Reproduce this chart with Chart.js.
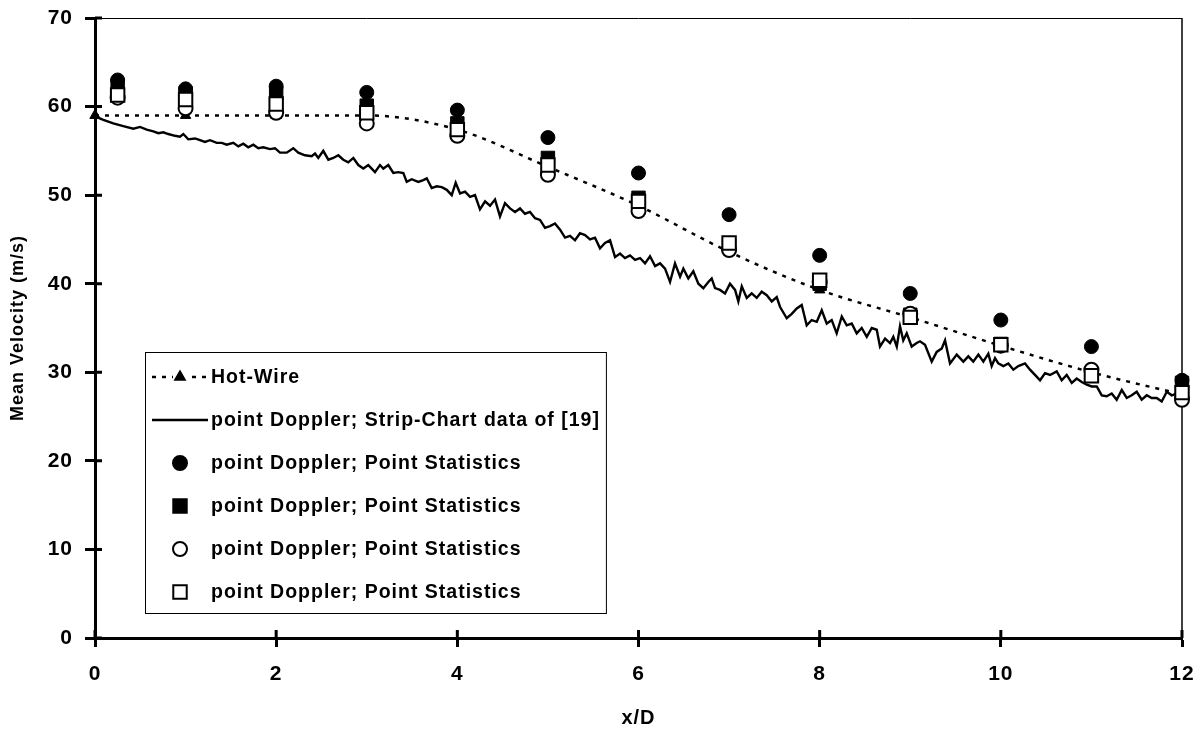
<!DOCTYPE html>
<html><head><meta charset="utf-8">
<style>html,body{margin:0;padding:0;background:#fff;}canvas{display:block;}</style>
<script src="https://cdn.jsdelivr.net/npm/chart.js@4.4.1/dist/chart.umd.min.js"></script>
</head><body>
<canvas id="c" width="1201" height="730"></canvas>
<script>
// ---------- data ----------
const xTicks = [0, 2, 4, 6, 8, 10, 12];
const yTicks = [0, 10, 20, 30, 40, 50, 60, 70];
const xTitle = 'x/D';
const yTitle = 'Mean Velocity (m/s)';
const seriesLabels = [
  'Hot-Wire',
  'point Doppler; Strip-Chart data of [19]',
  'point Doppler; Point Statistics',
  'point Doppler; Point Statistics',
  'point Doppler; Point Statistics',
  'point Doppler; Point Statistics'
];

const hotWireX = [0, 1, 2, 3, 4, 5, 6, 7, 8, 9, 10, 11, 12];
const hotWireY = [59.0, 59.0, 59.0, 59.0, 57.4, 53.2, 48.8, 43.6, 39.3, 36.2, 33.0, 30.0, 27.5];

const pointX = [0.25, 1, 2, 3, 4, 5, 6, 7, 8, 9, 10, 11, 12];
const circleFilledY = [63.0, 62.0, 62.3, 61.6, 59.6, 56.5, 52.5, 47.8, 43.2, 38.9, 35.9, 32.9, 29.1];
const squareFilledY = [62.4, 61.5, 61.5, 60.1, 58.1, 54.2, 49.7, 44.3, 40.0, 36.5, 33.2, 29.8, 28.8];
const circleOpenY   = [61.0, 59.8, 59.3, 58.1, 56.7, 52.3, 48.2, 43.8, 40.2, 36.6, 33.0, 30.3, 26.9];
const squareOpenY   = [61.3, 60.8, 60.3, 59.3, 57.4, 53.4, 49.3, 44.6, 40.4, 36.2, 33.1, 29.6, 27.7];

const stripX = [0.000,0.092,0.202,0.312,0.423,0.497,0.571,0.644,0.699,0.754,0.809,0.883,0.938,0.975,1.030,1.104,1.159,1.214,1.270,1.344,1.399,1.454,1.527,1.582,1.637,1.692,1.748,1.803,1.858,1.932,1.987,2.042,2.116,2.189,2.244,2.318,2.392,2.429,2.465,2.520,2.576,2.631,2.686,2.741,2.796,2.852,2.907,2.962,3.017,3.036,3.091,3.146,3.183,3.238,3.293,3.348,3.404,3.441,3.496,3.569,3.624,3.662,3.717,3.772,3.828,3.883,3.938,3.982,4.030,4.085,4.140,4.195,4.250,4.306,4.361,4.416,4.471,4.526,4.582,4.637,4.692,4.747,4.802,4.858,4.913,4.968,5.023,5.078,5.134,5.189,5.244,5.299,5.354,5.410,5.465,5.520,5.575,5.630,5.686,5.741,5.796,5.851,5.906,5.962,6.017,6.072,6.127,6.183,6.238,6.293,6.348,6.403,6.459,6.495,6.550,6.605,6.661,6.716,6.771,6.808,6.845,6.900,6.955,7.010,7.066,7.102,7.140,7.195,7.250,7.305,7.360,7.416,7.471,7.526,7.562,7.636,7.692,7.747,7.802,7.857,7.912,7.968,8.023,8.078,8.133,8.188,8.244,8.299,8.354,8.409,8.464,8.520,8.575,8.630,8.666,8.722,8.777,8.813,8.851,8.887,8.923,8.961,9.016,9.071,9.108,9.163,9.237,9.292,9.348,9.384,9.439,9.513,9.586,9.641,9.696,9.752,9.807,9.862,9.899,9.936,9.972,10.028,10.083,10.138,10.193,10.267,10.322,10.377,10.433,10.488,10.543,10.617,10.672,10.727,10.783,10.838,10.893,10.948,11.003,11.059,11.114,11.169,11.224,11.279,11.335,11.390,11.445,11.500,11.555,11.611,11.666,11.721,11.776,11.832,11.887,11.942];
const stripY = [58.9,58.5,58.1,57.8,57.5,57.7,57.4,57.2,57.0,57.1,56.9,56.7,56.6,56.9,56.3,56.4,56.2,56.0,56.2,55.9,55.9,55.7,55.9,55.5,55.8,55.4,55.7,55.3,55.4,55.2,55.3,54.8,54.8,55.3,54.8,54.5,54.4,54.7,54.2,55.0,54.0,54.2,54.5,54.0,53.7,54.2,53.4,53.0,53.4,53.2,52.6,53.4,53.0,53.4,52.5,52.6,52.5,51.5,51.8,51.5,51.7,51.9,50.8,51.0,50.9,50.6,50.0,51.4,50.2,50.4,49.8,50.0,48.4,49.3,48.8,49.5,47.6,49.1,48.5,48.1,48.5,47.9,48.1,47.4,47.2,46.3,46.5,46.8,46.1,45.2,45.4,44.9,45.7,45.5,45.0,45.2,44.0,44.6,44.9,43.0,43.4,42.9,43.2,42.7,42.9,42.3,43.1,42.0,42.3,41.7,40.2,42.3,40.8,41.7,40.6,41.4,40.0,39.5,40.2,40.6,39.5,39.3,38.9,40.0,39.3,38.0,39.7,38.4,38.9,38.4,39.1,38.7,38.0,38.5,37.4,36.1,36.6,37.2,37.6,35.3,35.9,35.7,37.0,35.5,35.9,34.4,36.3,35.3,35.5,34.4,35.0,34.0,35.0,34.8,32.9,33.8,33.3,34.0,32.9,35.2,33.6,34.4,32.9,33.3,33.5,33.1,31.2,32.3,32.7,33.6,31.0,32.0,31.2,31.8,31.2,32.0,31.2,32.1,30.7,31.6,31.0,30.7,31.0,30.3,30.7,31.0,30.3,29.7,29.1,29.9,29.7,30.1,29.1,29.7,28.8,29.3,28.9,28.6,28.4,28.4,27.4,27.3,27.6,26.9,28.0,27.1,27.4,27.8,26.9,27.4,27.1,27.1,26.7,27.8,27.4,27.6];

// ---------- build ----------
const pts = (xs, ys) => xs.map((x, i) => ({x: x, y: ys[i]}));
const FONT = '"Liberation Sans", Arial, Helvetica, sans-serif';

const spacingPlugin = {
  id: 'spacing',
  beforeLayout(chart) { chart.ctx.letterSpacing = '1px'; },
  beforeDraw(chart) { chart.ctx.letterSpacing = '1px'; }
};

const framePlugin = {
  id: 'frame',
  beforeDatasetsDraw(chart) {
    const ctx = chart.ctx, a = chart.chartArea;
    const xs = chart.scales.x, ys = chart.scales.y;
    ctx.save();
    ctx.strokeStyle = '#000';
    ctx.lineWidth = 1;
    ctx.beginPath();
    ctx.moveTo(a.left, a.top + 0.5); ctx.lineTo(a.right, a.top + 0.5);
    ctx.stroke();
    ctx.lineWidth = 1.5;
    ctx.beginPath();
    ctx.moveTo(a.right, a.top); ctx.lineTo(a.right, a.bottom);
    ctx.stroke();
    ctx.lineWidth = 3;
    ctx.beginPath();
    xTicks.forEach(v => { const p = xs.getPixelForValue(v); ctx.moveTo(p, a.bottom); ctx.lineTo(p, a.bottom - 8); });
    yTicks.forEach(v => { const p = ys.getPixelForValue(v); ctx.moveTo(a.left, p); ctx.lineTo(a.left + 7, p); });
    ctx.stroke();
    ctx.restore();
  }
};

function drawSymbol(ctx, style, x, y, r, fill) {
  ctx.beginPath();
  if (style === 'circle') {
    ctx.arc(x, y, r, 0, Math.PI * 2);
  } else if (style === 'rect') {
    const s = Math.SQRT1_2 * r;
    ctx.rect(x - s, y - s, 2 * s, 2 * s);
  } else if (style === 'triangle') {
    let rad = 0;
    ctx.moveTo(x + Math.sin(rad) * r, y - Math.cos(rad) * r);
    rad += 2 * Math.PI / 3;
    ctx.lineTo(x + Math.sin(rad) * r, y - Math.cos(rad) * r);
    rad += 2 * Math.PI / 3;
    ctx.lineTo(x + Math.sin(rad) * r, y - Math.cos(rad) * r);
    ctx.closePath();
  }
  ctx.fillStyle = fill;
  ctx.fill();
  ctx.lineWidth = 2;
  ctx.strokeStyle = '#000';
  ctx.stroke();
}

const legendPlugin = {
  id: 'boxLegend',
  afterDraw(chart) {
    const ctx = chart.ctx;
    const left = 145, top = 352, bottom = 613, row0 = 377, step = 43, symX = 180, textX = 211;
    ctx.save();
    ctx.letterSpacing = '1px';
    ctx.font = 'bold 19.5px ' + FONT;
    let maxW = 0;
    seriesLabels.forEach(t => { maxW = Math.max(maxW, ctx.measureText(t).width); });
    const right = textX + maxW + 6;
    ctx.fillStyle = '#fff';
    ctx.fillRect(left, top, right - left, bottom - top);
    ctx.strokeStyle = '#000';
    ctx.lineWidth = 1;
    ctx.strokeRect(left + 0.5, top + 0.5, right - left, bottom - top);
    const ds = chart.data.datasets;
    ds.forEach((d, i) => {
      const y = row0 + i * step;
      if (d.showLine) {
        ctx.save();
        ctx.lineWidth = d.borderWidth;
        ctx.setLineDash(d.borderDash || []);
        ctx.strokeStyle = '#000';
        ctx.beginPath();
        ctx.moveTo(152, y); ctx.lineTo(208, y);
        ctx.stroke();
        ctx.restore();
      }
      if (d.pointRadius > 0) {
        ctx.save();
        ctx.setLineDash([]);
        const r = d.pointStyle === 'triangle' ? 5.5 : d.pointRadius;
        if (d.pointStyle === 'triangle') {
          ctx.fillStyle = '#fff';
          ctx.fillRect(symX - 7, y - 7, 14, 14);
        }
        drawSymbol(ctx, d.pointStyle, symX, y, r, d.pointBackgroundColor);
        ctx.restore();
      }
      ctx.fillStyle = '#000';
      ctx.textBaseline = 'middle';
      ctx.textAlign = 'left';
      ctx.fillText(d.label, textX, y + 1);
    });
    ctx.restore();
  }
};

const noPad = s => { s.paddingTop = 0; s.paddingBottom = 0; s.paddingLeft = 0; s.paddingRight = 0; };

new Chart(document.getElementById('c'), {
  type: 'scatter',
  data: {
    datasets: [
      { label: seriesLabels[0], data: pts(hotWireX, hotWireY), showLine: true,
        borderColor: '#000', borderWidth: 2.5, borderDash: [4, 6], cubicInterpolationMode: 'monotone',
        pointStyle: 'triangle', pointRadius: 6, pointBackgroundColor: '#000', pointBorderColor: '#000',
        pointBorderWidth: 1, order: 5, clip: false },
      { label: seriesLabels[1], data: pts(stripX, stripY), showLine: true,
        borderColor: '#000', borderWidth: 2.4, pointRadius: 0, tension: 0, order: 6, clip: false },
      { label: seriesLabels[2], data: pts(pointX, circleFilledY), pointStyle: 'circle', pointRadius: 7,
        pointBackgroundColor: '#000', pointBorderColor: '#000', pointBorderWidth: 1, order: 3, clip: false },
      { label: seriesLabels[3], data: pts(pointX, squareFilledY), pointStyle: 'rect', pointRadius: 9.5,
        pointBackgroundColor: '#000', pointBorderColor: '#000', pointBorderWidth: 1, order: 2, clip: false },
      { label: seriesLabels[4], data: pts(pointX, circleOpenY), pointStyle: 'circle', pointRadius: 7,
        pointBackgroundColor: '#fff', pointBorderColor: '#000', pointBorderWidth: 2, order: 1, clip: false },
      { label: seriesLabels[5], data: pts(pointX, squareOpenY), pointStyle: 'rect', pointRadius: 9.5,
        pointBackgroundColor: '#fff', pointBorderColor: '#000', pointBorderWidth: 2, order: 0, clip: false }
    ]
  },
  options: {
    responsive: false,
    animation: false,
    devicePixelRatio: 1,
    events: [],
    layout: { padding: { left: 0, top: 18, right: 19, bottom: 0 } },
    plugins: { legend: { display: false }, tooltip: { enabled: false } },
    scales: {
      x: {
        type: 'linear', min: 0, max: 12,
        afterBuildTicks: s => { s.ticks = xTicks.map(v => ({ value: v })); },
        afterFit: s => { s.height = 92; noPad(s); },
        border: { display: true, width: 3, color: '#000' },
        grid: { drawOnChartArea: false, drawTicks: true, tickLength: 9, tickWidth: 3, tickColor: '#000' },
        ticks: { color: '#000', padding: 15, maxRotation: 0, font: { family: FONT, size: 21, weight: 'bold' } },
        title: { display: true, text: xTitle, color: '#000', padding: { top: 0, bottom: 0 },
                 font: { family: FONT, size: 20, weight: 'bold' } }
      },
      y: {
        type: 'linear', min: 0, max: 70,
        afterBuildTicks: s => { s.ticks = yTicks.map(v => ({ value: v })); },
        afterFit: s => { s.width = 95; noPad(s); },
        border: { display: true, width: 3, color: '#000' },
        grid: { drawOnChartArea: false, drawTicks: true, tickLength: 10, tickWidth: 3, tickColor: '#000' },
        ticks: { color: '#000', padding: 12, font: { family: FONT, size: 21, weight: 'bold' } },
        title: { display: true, text: yTitle, color: '#000', padding: { top: 7, bottom: 0 },
                 font: { family: FONT, size: 18, weight: 'bold' } }
      }
    }
  },
  plugins: [spacingPlugin, framePlugin, legendPlugin]
});
</script>
</body></html>
